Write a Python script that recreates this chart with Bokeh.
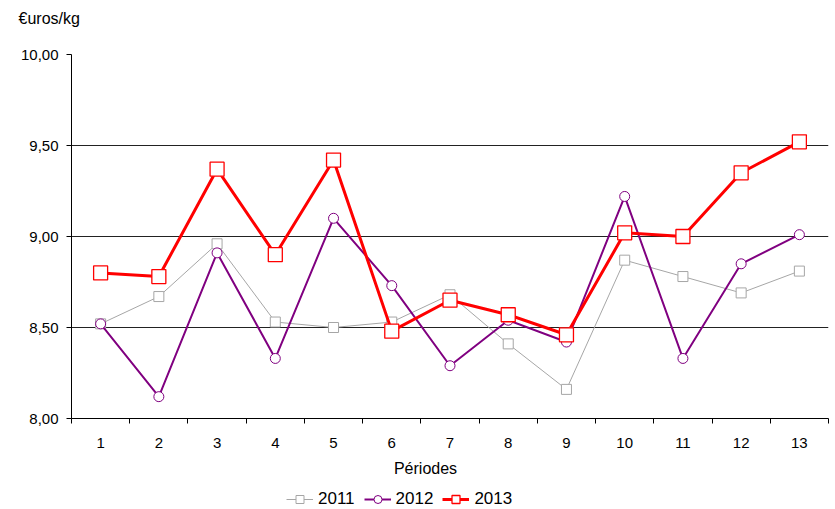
from bokeh.plotting import figure
from bokeh.layouts import column
from bokeh.models import FixedTicker, Legend, LegendItem, Range1d, Label
from bokeh.embed import file_html
from bokeh.resources import INLINE

periods = list(range(1, 14))
v2011 = [8.52, 8.67, 8.96, 8.53, 8.50, 8.53, 8.68, 8.41, 8.16, 8.87, 8.78, 8.69, 8.81]
v2012 = [8.52, 8.12, 8.91, 8.33, 9.10, 8.73, 8.29, 8.54, 8.42, 9.22, 8.33, 8.85, 9.01]
v2013 = [8.80, 8.78, 9.37, 8.90, 9.42, 8.48, 8.65, 8.57, 8.46, 9.02, 9.00, 9.35, 9.52]
series_names = ["2011", "2012", "2013"]
y_ticks = [8.0, 8.5, 9.0, 9.5, 10.0]
y_labels = ["8,00", "8,50", "9,00", "9,50", "10,00"]

FONT = "Liberation Sans"
W = 830

styles = [
    dict(color="#A6A6A6", lw=1, marker="square", size=10, mlw=1),
    dict(color="#800080", lw=2, marker="circle", size=10, mlw=1),
    dict(color="#FF0000", lw=3, marker="square", size=14, mlw=1.3),
]


def blank_fig(height):
    f = figure(width=W, height=height, output_backend="svg", toolbar_location=None,
               x_range=Range1d(0, 1), y_range=Range1d(0, 1), x_axis_type=None, y_axis_type=None,
               min_border=0, min_border_left=0, min_border_right=0,
               min_border_top=0, min_border_bottom=0)
    f.frame_align = False
    f.outline_line_color = None
    f.grid.visible = False
    f.background_fill_color = "white"
    f.border_fill_color = "white"
    return f


# --- top strip with unit label ---
p0 = blank_fig(36)
p0.add_layout(Label(x=18, y=18, x_units="screen", y_units="screen", text="€uros/kg",
                    text_font=FONT, text_font_size="16px", text_baseline="middle",
                    text_align="left", text_color="black"))

# --- main chart ---
p = figure(width=W, height=419, output_backend="svg", toolbar_location=None,
           x_range=Range1d(0.5, 13.5), y_range=Range1d(8.0, 10.0),
           min_border_left=71, min_border_right=2, min_border_top=18, min_border_bottom=37)
p.frame_align = False
p.outline_line_color = None
p.background_fill_color = "white"
p.border_fill_color = "white"

p.xaxis.ticker = FixedTicker(ticks=periods, minor_ticks=[i + 0.5 for i in range(0, 14)])
p.xaxis.major_tick_out = 0
p.xaxis.major_tick_in = 0
p.xaxis.minor_tick_out = 5
p.xaxis.minor_tick_in = 0
p.xaxis.minor_tick_line_color = "black"
p.xaxis.axis_line_color = "black"
p.xaxis.major_label_text_font = FONT
p.xaxis.major_label_text_font_size = "15px"
p.xaxis.major_label_text_color = "black"
p.xaxis.major_label_standoff = 14

p.yaxis.ticker = FixedTicker(ticks=y_ticks, minor_ticks=[])
p.yaxis.major_label_overrides = {k: v for k, v in zip(y_ticks, y_labels)}
p.yaxis.major_tick_out = 5
p.yaxis.major_tick_in = 0
p.yaxis.major_tick_line_color = "black"
p.yaxis.axis_line_color = "black"
p.yaxis.major_label_text_font = FONT
p.yaxis.major_label_text_font_size = "15px"
p.yaxis.major_label_text_color = "black"
p.yaxis.major_label_standoff = 8

p.xgrid.visible = False
p.ygrid.grid_line_color = "#222222"
p.ygrid.grid_line_width = 1

# --- bottom strip: axis title + legend ---
p2 = blank_fig(54)
p2.add_layout(Label(x=425, y=41, x_units="screen", y_units="screen", text="Périodes",
                    text_font=FONT, text_font_size="16px", text_baseline="middle",
                    text_align="center", text_color="black"))

items = []
for vals, name, st in zip([v2011, v2012, v2013], series_names, styles):
    p.line(periods, vals, line_color=st["color"], line_width=st["lw"])
    p.scatter(periods, vals, marker=st["marker"], size=st["size"], fill_color="white",
              line_color=st["color"], line_width=st["mlw"])
    # legend proxies (hidden) living in the bottom strip
    gl = p2.line(periods, vals, line_color=st["color"], line_width=st["lw"], visible=False)
    gm = p2.scatter(periods, vals, marker=st["marker"], size=st["size"] * 0.85, fill_color="white",
                    line_color=st["color"], line_width=st["mlw"], visible=False)
    items.append(LegendItem(label=name, renderers=[gl, gm]))

legend = Legend(items=items, orientation="horizontal", location=(286, 0), label_text_font=FONT,
                label_text_font_size="17px", label_text_color="black", border_line_color=None,
                background_fill_alpha=0, inactive_fill_alpha=0,
                glyph_width=27, glyph_height=20, spacing=9, padding=0, margin=0, label_standoff=5,
                label_height=20)
p2.add_layout(legend, "center")

layout = column(p0, p, p2, spacing=0)
open("out.html", "w").write(file_html(layout, INLINE))
